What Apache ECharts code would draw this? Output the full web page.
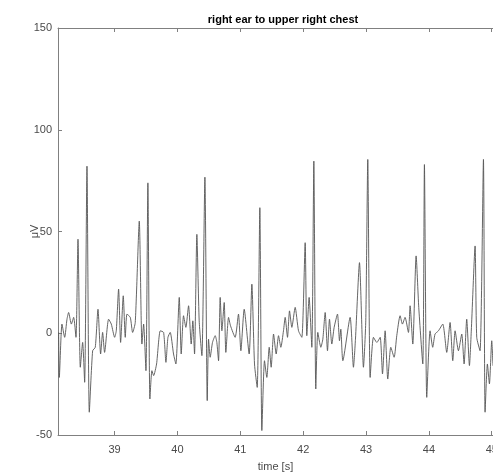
<!DOCTYPE html>
<html>
<head>
<meta charset="utf-8">
<script src="https://cdn.jsdelivr.net/npm/echarts@6/dist/echarts.min.js"></script>
<style>html,body{margin:0;padding:0;background:#fff}#c{width:493px;height:473px}</style>
</head>
<body>
<div id="c"></div>
<script>
const timeS = [38.110,38.121,38.163,38.206,38.243,38.269,38.312,38.349,38.386,38.418,38.455,38.492,38.524,38.561,38.598,38.651,38.693,38.736,38.778,38.810,38.841,38.905,38.948,39.001,39.027,39.064,39.096,39.138,39.170,39.197,39.250,39.287,39.329,39.393,39.435,39.462,39.499,39.530,39.562,39.594,39.621,39.668,39.727,39.780,39.817,39.849,39.885,39.938,39.975,40.029,40.060,40.097,40.134,40.177,40.219,40.245,40.272,40.309,40.346,40.389,40.437,40.474,40.495,40.521,40.558,40.601,40.627,40.654,40.680,40.707,40.744,40.770,40.813,40.844,40.918,40.971,41.009,41.062,41.141,41.184,41.226,41.269,41.311,41.343,41.385,41.422,41.460,41.491,41.529,41.571,41.608,41.645,41.687,41.714,41.751,41.783,41.820,41.873,41.926,41.979,42.032,42.058,42.095,42.138,42.170,42.201,42.233,42.281,42.313,42.350,42.387,42.419,42.456,42.493,42.546,42.578,42.599,42.631,42.747,42.800,42.832,42.896,42.959,42.996,43.028,43.066,43.118,43.172,43.225,43.262,43.304,43.346,43.394,43.447,43.489,43.542,43.579,43.621,43.675,43.701,43.744,43.797,43.839,43.903,43.929,43.966,44.019,44.061,44.098,44.152,44.221,44.284,44.337,44.380,44.417,44.470,44.523,44.560,44.602,44.645,44.677,44.735,44.761,44.814,44.868,44.894,44.931,44.963,45.000,45.020];
const microV = [0.4,-21.7,4.5,-2.0,6.9,10.2,4.5,7.8,-2.0,46.2,-16.7,-4.5,-24.1,82.1,-38.8,-8.6,-6.9,11.8,-10.2,0.4,-9.4,6.9,4.5,-2.0,1.2,21.7,-4.5,18.4,-2.0,9.4,7.8,0.4,5.3,55.1,-5.3,4.5,-18.4,73.9,-32.3,-18.4,-20.8,-15.1,1.2,0.4,-14.3,-2.0,0.4,-10.2,-15.1,17.6,-10.2,8.6,2.9,13.5,-5.3,6.1,-10.2,48.6,6.1,-11.0,76.7,-33.1,-2.9,-11.8,-4.5,-1.2,-4.5,-13.5,17.6,1.2,15.1,-9.4,7.8,3.7,-2.0,9.4,-8.6,11.8,-10.2,24.1,-15.1,-26.6,61.7,-47.8,-13.5,-21.7,-6.9,-16.7,-0.4,-10.2,-1.2,-6.9,1.2,7.8,-2.0,11.0,2.9,12.7,1.2,-2.0,44.5,-1.2,17.6,-6.9,84.6,-27.4,0.4,-6.9,-2.9,10.2,-8.6,6.9,-5.3,2.9,9.4,-3.7,2.0,-13.5,7.8,-16.7,-2.9,34.7,-16.7,6.1,85.4,-21.7,-2.0,-4.5,-2.0,-20.0,1.2,-22.5,-6.9,-11.8,-1.2,8.6,4.5,7.8,0.4,13.5,-5.3,38.0,12.7,-15.1,82.9,-31.5,1.2,-6.9,-0.4,1.2,4.5,-9.4,5.3,-13.5,1.2,-8.6,-0.4,-15.1,6.9,-15.9,2.9,42.9,-2.0,-8.6,85.4,-38.8,-15.1,-24.9,-3.7,-16.0];
const xTicks = [39,40,41,42,43,44,45];
const yTicks = [-50,0,50,100,150];
const titleText = 'right ear to upper right chest';
const xName = 'time [s]';
const yName = '\u03bcV';

const font = 'Liberation Sans, Arial, Helvetica, sans-serif';
const axisCol = '#808080';
const textCol = '#4a4a4a';
const chart = echarts.init(document.getElementById('c'), null, {renderer:'canvas'});
chart.setOption({
  animation:false,
  backgroundColor:'#fff',
  title:{text:titleText,left:278,top:9,textAlign:'center',
    textStyle:{fontFamily:font,fontSize:11,fontWeight:'bold',color:'#000'}},
  grid:{left:58,top:28,right:0,bottom:38,containLabel:false,outerBoundsMode:'none'},
  xAxis:[{
    type:'value',min:38.1,max:45.02,position:'bottom',
    name:xName,nameLocation:'middle',nameGap:26,nameMoveOverlap:false,
    nameTextStyle:{fontFamily:font,fontSize:11,color:textCol},
    axisLine:{show:true,onZero:false,lineStyle:{color:axisCol,width:1}},
    axisTick:{show:true,inside:true,length:4,customValues:xTicks,lineStyle:{color:axisCol}},
    axisLabel:{show:true,customValues:xTicks,fontFamily:font,fontSize:11,color:textCol,margin:9},
    splitLine:{show:false}
  },{
    type:'value',min:38.1,max:45.02,position:'top',
    axisLine:{show:true,onZero:false,lineStyle:{color:axisCol,width:1}},
    axisTick:{show:true,inside:true,length:4,customValues:xTicks,lineStyle:{color:axisCol}},
    axisLabel:{show:false},
    splitLine:{show:false}
  }],
  yAxis:{
    type:'value',min:yTicks[0],max:yTicks[yTicks.length-1],interval:50,
    name:yName,nameLocation:'middle',nameGap:18,nameRotate:90,nameMoveOverlap:false,
    nameTextStyle:{fontFamily:font,fontSize:11,color:textCol},
    axisLine:{show:true,onZero:false,lineStyle:{color:axisCol,width:1}},
    axisTick:{show:true,inside:true,length:4,lineStyle:{color:axisCol}},
    axisLabel:{fontFamily:font,fontSize:11,color:textCol,margin:6},
    splitLine:{show:false}
  },
  series:[{
    type:'line',xAxisIndex:0,
    data:timeS.map((t,i)=>[t,microV[i]]),
    showSymbol:false,symbol:'none',
    smooth:0.2,
    lineStyle:{color:'#555',width:0.9},
    clip:true
  }]
});
</script>
</body>
</html>
